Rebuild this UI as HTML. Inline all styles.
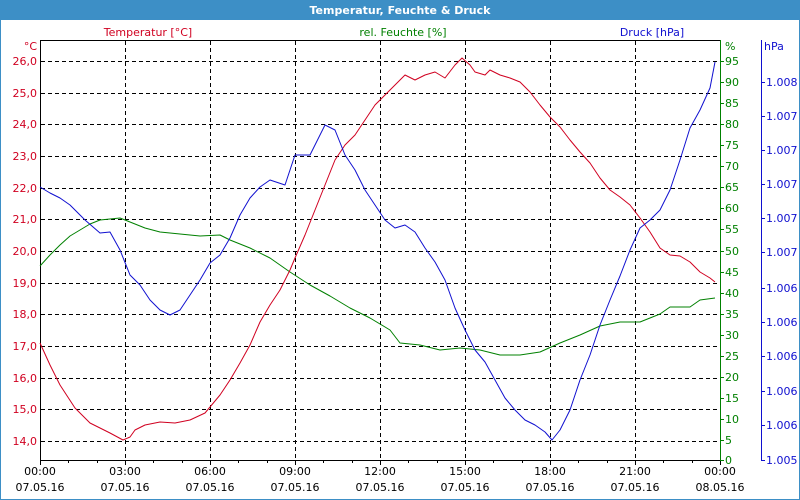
<!DOCTYPE html>
<html><head><meta charset="utf-8"><style>
html,body{margin:0;padding:0;background:#fff;}
svg{display:block;font-family:"DejaVu Sans","Liberation Sans",sans-serif;font-size:11px;}
</style></head><body>
<svg width="800" height="500" xmlns="http://www.w3.org/2000/svg">
<rect x="0" y="0" width="800" height="500" fill="#fff"/>
<rect x="0.5" y="0.5" width="799" height="499" fill="none" stroke="#3d8fc6"/>
<rect x="0" y="0" width="800" height="20" fill="#3d8fc6"/>
<text x="400" y="14" text-anchor="middle" fill="#fff" font-weight="bold" font-size="11">Temperatur, Feuchte &amp; Druck</text>
<text x="148" y="36" text-anchor="middle" fill="#d00020">Temperatur [°C]</text>
<text x="403" y="36" text-anchor="middle" fill="#008000">rel. Feuchte [%]</text>
<text x="652" y="36" text-anchor="middle" fill="#1010d0">Druck [hPa]</text>
<g stroke="#000" stroke-dasharray="4,3" stroke-width="1">
<line x1="125.5" y1="41" x2="125.5" y2="460"/><line x1="210.5" y1="41" x2="210.5" y2="460"/>
<line x1="295.5" y1="41" x2="295.5" y2="460"/><line x1="380.5" y1="41" x2="380.5" y2="460"/>
<line x1="465.5" y1="41" x2="465.5" y2="460"/><line x1="550.5" y1="41" x2="550.5" y2="460"/>
<line x1="635.5" y1="41" x2="635.5" y2="460"/>
<line x1="41" y1="61.5" x2="720" y2="61.5"/><line x1="41" y1="93.5" x2="720" y2="93.5"/>
<line x1="41" y1="124.5" x2="720" y2="124.5"/><line x1="41" y1="156.5" x2="720" y2="156.5"/>
<line x1="41" y1="188.5" x2="720" y2="188.5"/><line x1="41" y1="219.5" x2="720" y2="219.5"/>
<line x1="41" y1="251.5" x2="720" y2="251.5"/><line x1="41" y1="283.5" x2="720" y2="283.5"/>
<line x1="41" y1="314.5" x2="720" y2="314.5"/><line x1="41" y1="346.5" x2="720" y2="346.5"/>
<line x1="41" y1="378.5" x2="720" y2="378.5"/><line x1="41" y1="409.5" x2="720" y2="409.5"/>
<line x1="41" y1="441.5" x2="720" y2="441.5"/>
</g>
<line x1="40" y1="40.5" x2="720" y2="40.5" stroke="#000"/>
<line x1="40.5" y1="40" x2="40.5" y2="461" stroke="#000"/>
<line x1="40" y1="460.5" x2="721" y2="460.5" stroke="#000"/>
<g stroke="#000">
<line x1="40.5" y1="460" x2="40.5" y2="465"/><line x1="68.5" y1="460" x2="68.5" y2="463"/><line x1="97.5" y1="460" x2="97.5" y2="463"/>
<line x1="125.5" y1="460" x2="125.5" y2="465"/><line x1="153.5" y1="460" x2="153.5" y2="463"/><line x1="182.5" y1="460" x2="182.5" y2="463"/>
<line x1="210.5" y1="460" x2="210.5" y2="465"/><line x1="238.5" y1="460" x2="238.5" y2="463"/><line x1="267.5" y1="460" x2="267.5" y2="463"/>
<line x1="295.5" y1="460" x2="295.5" y2="465"/><line x1="323.5" y1="460" x2="323.5" y2="463"/><line x1="352.5" y1="460" x2="352.5" y2="463"/>
<line x1="380.5" y1="460" x2="380.5" y2="465"/><line x1="408.5" y1="460" x2="408.5" y2="463"/><line x1="437.5" y1="460" x2="437.5" y2="463"/>
<line x1="465.5" y1="460" x2="465.5" y2="465"/><line x1="493.5" y1="460" x2="493.5" y2="463"/><line x1="522.5" y1="460" x2="522.5" y2="463"/>
<line x1="550.5" y1="460" x2="550.5" y2="465"/><line x1="578.5" y1="460" x2="578.5" y2="463"/><line x1="607.5" y1="460" x2="607.5" y2="463"/>
<line x1="635.5" y1="460" x2="635.5" y2="465"/><line x1="663.5" y1="460" x2="663.5" y2="463"/><line x1="692.5" y1="460" x2="692.5" y2="463"/>
<line x1="720.5" y1="460" x2="720.5" y2="465"/>
</g>
<g fill="#000" text-anchor="middle">
<text x="40" y="475">00:00</text><text x="40" y="491">07.05.16</text>
<text x="125" y="475">03:00</text><text x="125" y="491">07.05.16</text>
<text x="210" y="475">06:00</text><text x="210" y="491">07.05.16</text>
<text x="295" y="475">09:00</text><text x="295" y="491">07.05.16</text>
<text x="380" y="475">12:00</text><text x="380" y="491">07.05.16</text>
<text x="465" y="475">15:00</text><text x="465" y="491">07.05.16</text>
<text x="550" y="475">18:00</text><text x="550" y="491">07.05.16</text>
<text x="635" y="475">21:00</text><text x="635" y="491">07.05.16</text>
<text x="720" y="475">00:00</text><text x="720" y="491">08.05.16</text>
</g>
<g fill="#d00020" text-anchor="end">
<text x="37" y="50">°C</text>
<text x="37" y="65">26,0</text><text x="37" y="97">25,0</text><text x="37" y="128">24,0</text>
<text x="37" y="160">23,0</text><text x="37" y="192">22,0</text><text x="37" y="223">21,0</text>
<text x="37" y="255">20,0</text><text x="37" y="287">19,0</text><text x="37" y="318">18,0</text>
<text x="37" y="350">17,0</text><text x="37" y="382">16,0</text><text x="37" y="413">15,0</text>
<text x="37" y="445">14,0</text>
</g>
<line x1="720.5" y1="40" x2="720.5" y2="461" stroke="#008000"/>
<g stroke="#008000">
<line x1="720" y1="61.5" x2="724" y2="61.5"/><line x1="720" y1="82.5" x2="724" y2="82.5"/><line x1="720" y1="103.5" x2="724" y2="103.5"/>
<line x1="720" y1="124.5" x2="724" y2="124.5"/><line x1="720" y1="145.5" x2="724" y2="145.5"/><line x1="720" y1="166.5" x2="724" y2="166.5"/>
<line x1="720" y1="187.5" x2="724" y2="187.5"/><line x1="720" y1="208.5" x2="724" y2="208.5"/><line x1="720" y1="229.5" x2="724" y2="229.5"/>
<line x1="720" y1="251.5" x2="724" y2="251.5"/><line x1="720" y1="272.5" x2="724" y2="272.5"/><line x1="720" y1="293.5" x2="724" y2="293.5"/>
<line x1="720" y1="314.5" x2="724" y2="314.5"/><line x1="720" y1="335.5" x2="724" y2="335.5"/><line x1="720" y1="356.5" x2="724" y2="356.5"/>
<line x1="720" y1="377.5" x2="724" y2="377.5"/><line x1="720" y1="398.5" x2="724" y2="398.5"/><line x1="720" y1="419.5" x2="724" y2="419.5"/>
<line x1="720" y1="440.5" x2="724" y2="440.5"/><line x1="720" y1="460.5" x2="724" y2="460.5"/>
</g>
<g fill="#008000">
<text x="725" y="50">%</text>
<text x="725" y="65">95</text><text x="725" y="86">90</text><text x="725" y="107">85</text>
<text x="725" y="128">80</text><text x="725" y="149">75</text><text x="725" y="170">70</text>
<text x="725" y="191">65</text><text x="725" y="212">60</text><text x="725" y="233">55</text>
<text x="725" y="255">50</text><text x="725" y="276">45</text><text x="725" y="297">40</text>
<text x="725" y="318">35</text><text x="725" y="339">30</text><text x="725" y="360">25</text>
<text x="725" y="381">20</text><text x="725" y="402">15</text><text x="725" y="423">10</text>
<text x="725" y="444">5</text><text x="725" y="464">0</text>
</g>
<line x1="761.5" y1="40" x2="761.5" y2="461" stroke="#1010d0"/>
<g stroke="#1010d0">
<line x1="761" y1="82.5" x2="765" y2="82.5"/><line x1="761" y1="116.5" x2="765" y2="116.5"/><line x1="761" y1="150.5" x2="765" y2="150.5"/>
<line x1="761" y1="184.5" x2="765" y2="184.5"/><line x1="761" y1="218.5" x2="765" y2="218.5"/><line x1="761" y1="252.5" x2="765" y2="252.5"/>
<line x1="761" y1="288.5" x2="765" y2="288.5"/><line x1="761" y1="322.5" x2="765" y2="322.5"/><line x1="761" y1="356.5" x2="765" y2="356.5"/>
<line x1="761" y1="391.5" x2="765" y2="391.5"/><line x1="761" y1="425.5" x2="765" y2="425.5"/><line x1="761" y1="460.5" x2="765" y2="460.5"/>
</g>
<g fill="#1010d0">
<text x="764" y="50">hPa</text>
<text x="766" y="86">1.008</text><text x="766" y="120">1.007</text><text x="766" y="154">1.007</text>
<text x="766" y="188">1.007</text><text x="766" y="222">1.007</text><text x="766" y="256">1.007</text>
<text x="766" y="292">1.006</text><text x="766" y="326">1.006</text><text x="766" y="360">1.006</text>
<text x="766" y="395">1.006</text><text x="766" y="429">1.006</text><text x="766" y="464">1.005</text>
</g>
<g fill="none" stroke-width="1" stroke-linejoin="round">
<polyline stroke="#008000" points="40,266 50,255 60,245 70,236 80,230 90,224 100,220 120,218 130,222 145,228 160,232 180,234 200,236 220,235 230,240 250,248 270,258 290,272 310,285 330,296 350,308 370,318 390,330 400,343 420,345 440,350 460,348 480,350 500,355 520,355 540,352 560,343 580,335 600,326 620,322 640,322 660,314 670,307 690,307 700,300 715,298"/>
<polyline stroke="#d00020" points="40,343 50,365 60,385 75,408 90,423 110,433 123,440 130,437 135,430 145,425 160,422 175,423 190,420 205,413 210,407 220,395 230,380 240,363 250,345 260,322 270,305 280,290 290,270 295,258 305,235 315,210 325,185 335,160 345,145 355,135 365,120 375,105 385,95 395,85 405,75 415,80 425,75 435,72 445,78 455,65 462,58 470,65 475,72 485,75 490,70 500,75 510,78 520,82 530,92 540,105 550,117 560,127 570,140 580,152 590,163 600,178 610,190 620,197 630,205 640,218 650,232 660,248 670,255 680,256 690,262 700,272 710,278 715,282"/>
<polyline stroke="#1010d0" points="40,187 50,193 60,198 70,205 85,220 100,233 110,232 120,250 130,275 140,285 150,300 160,310 170,315 180,310 190,295 200,280 210,263 220,255 230,238 240,215 250,198 260,187 270,180 285,185 295,155 310,155 325,125 335,130 345,155 355,170 365,190 375,205 385,220 395,228 405,225 415,232 425,248 435,262 445,280 455,308 465,330 475,350 485,362 495,380 505,398 515,410 525,420 535,425 545,432 552,440 560,430 570,410 580,380 590,355 600,325 610,300 620,276 630,250 640,228 650,220 660,210 670,190 680,160 690,128 700,110 710,88 715,62"/>
</g>
</svg>
</body></html>
